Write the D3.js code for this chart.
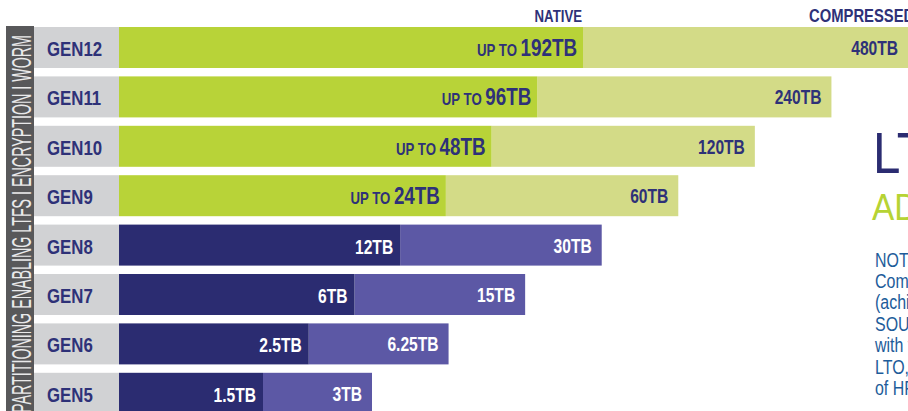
<!DOCTYPE html>
<html>
<head>
<meta charset="utf-8">
<script src="https://cdn.jsdelivr.net/npm/d3@7"></script>
<style>
  body { margin: 0; background: #fff; overflow: hidden; }
  svg { display: block; }
  text { font-family: "Liberation Sans", Arial, sans-serif; }
</style>
</head>
<body>
<svg id="chart"></svg>
<script>
// generations, newest first
const gens = ['GEN12', 'GEN11', 'GEN10', 'GEN9', 'GEN8', 'GEN7', 'GEN6', 'GEN5'];
const nativeTB = [192, 96, 48, 24, 12, 6, 2.5, 1.5];
const compressedTB = [480, 240, 120, 60, 30, 15, 6.25, 3];
const upToGens = ['GEN12', 'GEN11', 'GEN10', 'GEN9'];
const headers = ['NATIVE', 'COMPRESSED'];
const sideText = 'PARTITIONING ENABLING LTFS I ENCRYPTION I WORM';
const titleText = 'LTO';
const subtitleText = 'ADVANTAGES';
const noteLines = [
  'NOTE: Capacities shown are per cartridge.',
  'Compressed capacities assume 2.5:1 compression',
  '(achieved with larger compression history buffer).',
  'SOURCE: The LTO Program. Linear Tape-Open,',
  'with the LTO logo, Ultrium and the Ultrium logo,',
  'LTO, are trademarks',
  'of HPE, IBM and Quantum in the US and other countries.'
];

const W = 908, H = 411;
const SQ = 0.8; // horizontal squeeze to mimic a condensed face
const colors = {
  lime: '#b8d338',
  paleLime: '#d3db87',
  navy: '#2b2c71',
  purple: '#5c58a5',
  labelBox: '#d1d2d4',
  side: '#58585a',
  labelText: '#2e3178',
  note: '#1d5c9a'
};

const svg = d3.select('#chart').attr('width', W).attr('height', H);

const rows = gens.map((g, i) => ({
  gen: g,
  native: nativeTB[i],
  compressed: compressedTB[i],
  green: upToGens.includes(g)
}));

// rows
const y = d3.scaleBand().domain(gens).range([27, 413.8]).paddingInner(0.17).paddingOuter(0);

// bar lengths in the infographic grow by one step per generation
const oldestFirst = gens.slice().reverse();
const nativeEnd = d3.scalePoint().domain(oldestFirst).range([263, 583]);
const compEnd = d3.scalePoint().domain(oldestFirst).range([372, 908]);
const barStart = 119;
const boxStart = 34;

const squeeze = (x, yy, k = SQ) => `translate(${x},${yy}) scale(${k},1)`;

// side strip
svg.append('rect')
  .attr('x', 6).attr('y', 26)
  .attr('width', 28).attr('height', H - 26)
  .attr('fill', colors.side);

svg.append('text')
  .attr('transform', 'translate(31,413) rotate(-90)')
  .attr('textLength', 378)
  .attr('lengthAdjust', 'spacingAndGlyphs')
  .attr('font-size', 27)
  .attr('fill', '#e9e9ea')
  .text(sideText);

// headers
svg.append('text')
  .attr('transform', squeeze(nativeEnd('GEN12') - 1, 22))
  .attr('text-anchor', 'end')
  .attr('font-size', 16.5).attr('font-weight', 'bold')
  .attr('fill', colors.labelText)
  .text(headers[0]);

svg.append('text')
  .attr('transform', squeeze(809, 22))
  .attr('font-size', 18.5).attr('font-weight', 'bold')
  .attr('fill', colors.labelText)
  .text(headers[1]);

const row = svg.selectAll('g.row')
  .data(rows)
  .join('g')
  .attr('class', 'row')
  .attr('transform', (d) => `translate(0,${y(d.gen)})`);

const bh = y.bandwidth();

row.append('rect')
  .attr('x', boxStart).attr('width', barStart - boxStart)
  .attr('height', bh)
  .attr('fill', colors.labelBox);

row.append('rect')
  .attr('x', (d) => nativeEnd(d.gen))
  .attr('width', (d) => compEnd(d.gen) - nativeEnd(d.gen))
  .attr('height', bh)
  .attr('fill', (d) => (d.green ? colors.paleLime : colors.purple));

row.append('rect')
  .attr('x', barStart)
  .attr('width', (d) => nativeEnd(d.gen) - barStart)
  .attr('height', bh)
  .attr('fill', (d) => (d.green ? colors.lime : colors.navy));

// generation labels
row.append('text')
  .attr('transform', squeeze(47, bh / 2 + 8.5, 0.82))
  .attr('font-size', 20.5).attr('font-weight', 'bold')
  .attr('fill', colors.labelText)
  .text((d) => d.gen);

// native labels
const nativeLabel = row.append('text')
  .attr('transform', (d) => squeeze(nativeEnd(d.gen) - (d.green ? 6 : 7), bh / 2 + 8.5))
  .attr('text-anchor', 'end')
  .attr('font-weight', 'bold')
  .attr('fill', (d) => (d.green ? colors.labelText : '#fff'));

nativeLabel.filter((d) => d.green)
  .append('tspan')
  .attr('font-size', 16.5)
  .text('UP TO ');

nativeLabel.append('tspan')
  .attr('font-size', (d) => (d.green ? 23.5 : 19.5))
  .text((d) => `${d.native}TB`);

// compressed labels
row.append('text')
  .attr('transform', (d) => squeeze(compEnd(d.gen) - 10, bh / 2 + 7.5))
  .attr('text-anchor', 'end')
  .attr('font-size', 19.5).attr('font-weight', 'bold')
  .attr('fill', (d) => (d.green ? colors.labelText : '#fff'))
  .text((d) => `${d.compressed}TB`);

// right-hand panel
svg.append('text')
  .attr('transform', squeeze(873, 173, 0.85))
  .attr('font-family', 'Lato, "Open Sans", sans-serif')
  .attr('font-size', 58)
  .attr('fill', colors.navy)
  .text(titleText);

svg.append('text')
  .attr('transform', squeeze(872, 220, 0.9))
  .attr('font-family', 'Lato, "Open Sans", sans-serif')
  .attr('font-weight', 300)
  .attr('font-size', 37)
  .attr('fill', '#b6d334')
  .text(subtitleText);

svg.append('g')
  .selectAll('text')
  .data(noteLines)
  .join('text')
  .attr('transform', (d, i) => squeeze(875, 266.5 + i * 21.4, 0.76))
  .attr('font-size', 21)
  .attr('fill', colors.note)
  .text((d) => d);
</script>
</body>
</html>
